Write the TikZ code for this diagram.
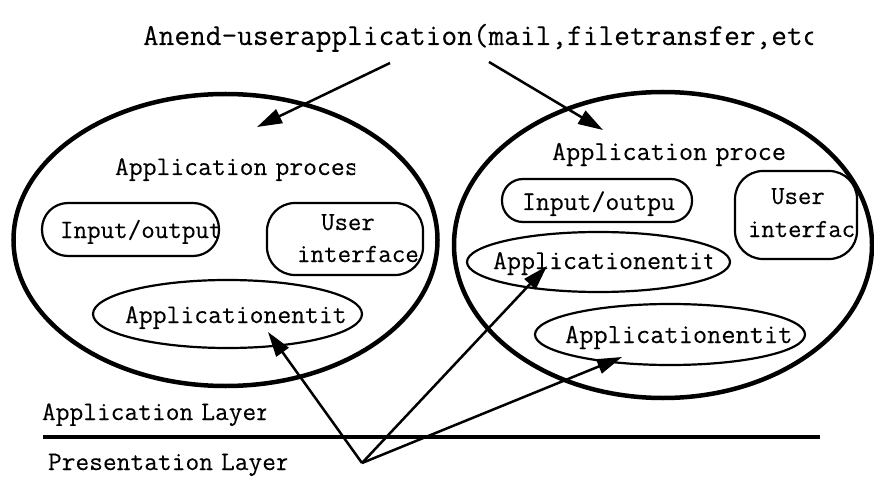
\documentclass[tikz,border=0pt]{standalone}
\usepackage{fontspec}
\usetikzlibrary{arrows.meta,shapes.geometric}
\newfontfamily\monofam[FakeBold=0.2]{Latin Modern Mono}
\newcommand\mtext[2]{{\monofam\fontsize{#1}{#1}\selectfont #2}}
\newcommand\cliptext[6]{\begin{scope}\clip (#2-5,#3-40) rectangle (#4,#3+14);\node[txt] (#1) at (#2,#3) {\mtext{#5}{#6}};\end{scope}}
\begin{document}
\begin{tikzpicture}[x=1pt,y=-1pt,
  bigell/.style={draw, line width=4.5pt, ellipse, inner sep=0pt},
  entell/.style={draw, line width=2.2pt, ellipse, inner sep=0pt},
  rbox/.style={draw, line width=2.2pt, rectangle, rounded corners=#1, inner sep=0pt},
  txt/.style={anchor=base west, inner sep=0pt, outer sep=0pt},
  ctxt/.style={anchor=base, inner sep=0pt, outer sep=0pt},
  arr/.style={line width=2.5pt, -{Triangle[length=25pt,width=15pt]}},
  layerline/.style={line width=3.5pt}
  ]
\useasboundingbox (0,0) rectangle (874,478);
\fill[white] (0,0) rectangle (874,478);

% big ellipses
\node[bigell, minimum width=424pt, minimum height=292pt] (lproc) at (225.5,240) {};
\node[bigell, minimum width=418pt, minimum height=306pt] (rproc) at (663,245) {};

% title
\cliptext{title}{143}{45}{813}{30.5}{Anend-userapplication(mail,filetransfer,etc}

% left process
\cliptext{ltitle}{115}{175}{355}{26.9}{Application\hspace{0.3em}proces}
\node[rbox=26pt, minimum width=177pt, minimum height=53pt] (liobox) at (130.5,229.5) {};
\begin{scope}
  \clip[rounded corners=26pt] (42,203) rectangle (219,256);
  \node[txt] (lio) at (60,238) {\mtext{26.3}{Input/output}};
\end{scope}
\node[rbox=28pt, minimum width=156pt, minimum height=72pt] (luibox) at (345,239) {};
\begin{scope}
  \clip[rounded corners=28pt] (267,203) rectangle (423,275);
  \node[ctxt] (luser) at (348,230) {\mtext{26}{User}};
  \node[txt] (lint) at (297,262) {\mtext{26.3}{interface}};
\end{scope}
\node[entell, minimum width=269pt, minimum height=68pt] (lent) at (227.5,314) {};
\cliptext{lenttxt}{125}{323}{345}{26.9}{Applicationentit}

% right process
\cliptext{rtitle}{552}{160}{795}{27.4}{Application\hspace{0.3em}proce}
\node[rbox=21pt, minimum width=190pt, minimum height=43pt] (riobox) at (597,200.5) {};
\begin{scope}
  \clip[rounded corners=21pt] (502,179) rectangle (692,222);
  \node[txt] (rio) at (522,210) {\mtext{27}{Input/outpu}};
\end{scope}
\node[rbox=28pt, minimum width=122pt, minimum height=88pt] (ruibox) at (796,215) {};
\begin{scope}
  \clip[rounded corners=28pt] (735,171) rectangle (857,259);
  \node[ctxt] (ruser) at (798,204) {\mtext{26}{User}};
  \node[txt] (rint) at (748,237) {\mtext{26}{interfac}};
\end{scope}
\node[entell, minimum width=263pt, minimum height=60pt] (rent1) at (598.5,262) {};
\cliptext{rent1txt}{493}{269}{712}{27.2}{Applicationentit}
\node[entell, minimum width=270pt, minimum height=61pt] (rent2) at (670,334.5) {};
\cliptext{rent2txt}{565}{343}{805}{27.6}{Applicationentit}

% layers
\cliptext{applayer}{42}{420}{266}{26.7}{Application\hspace{0.3em}Layer}
\cliptext{preslayer}{48}{470}{287}{26.7}{Presentation\hspace{0.3em}Layer}
\coordinate (la) at (43,437);
\coordinate (lb) at (820,437);
\draw[layerline] (la) -- (lb);

% arrows from the title
\coordinate (s1) at (390,63);
\coordinate (e1) at (257,127);
\coordinate (s2) at (489,62);
\coordinate (e2) at (603,130);
\draw[arr] (s1) -- (e1);
\draw[arr] (s2) -- (e2);

% arrows from the presentation layer
\coordinate (p) at (362,463);
\coordinate (t1) at (268,332);
\coordinate (t2) at (547,266);
\coordinate (t3) at (622,357);
\draw[arr] (p) -- (t1);
\draw[arr] (p) -- (t2);
\draw[arr] (p) -- (t3);
\end{tikzpicture}
\end{document}
